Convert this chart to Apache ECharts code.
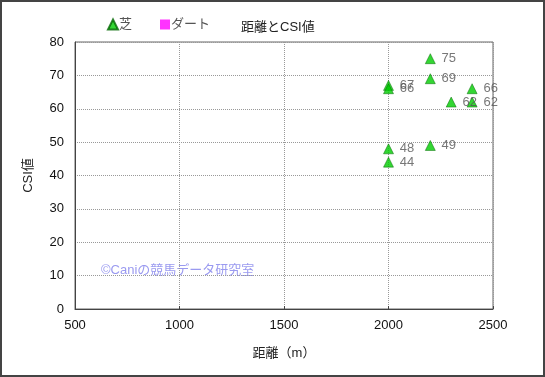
<!DOCTYPE html>
<html>
<head>
<meta charset="utf-8">
<script src="https://cdn.jsdelivr.net/npm/echarts@6/dist/echarts.min.js"></script>
<style>
  html, body { margin: 0; padding: 0; background: #fff; }
  #chart { width: 545px; height: 377px; box-sizing: border-box; border: 2px solid #444; }
</style>
</head>
<body>
<div id="chart"></div>
<script>
// 距離とCSI値のデータ
const turfDistance = [2000, 2000, 2000, 2000, 2200, 2200, 2200, 2300, 2400, 2400];
const turfCsi = [67, 66, 48, 44, 75, 69, 49, 62, 66, 62];
const dirtDistance = [];
const dirtCsi = [];
const xTicks = [500, 1000, 1500, 2000, 2500];
const yTicks = [0, 10, 20, 30, 40, 50, 60, 70, 80];

const font = '"Liberation Sans", "Noto Sans CJK JP", sans-serif';

const chart = echarts.init(document.getElementById('chart'));
chart.setOption({
  animation: false,
  textStyle: { fontFamily: font },
  title: {
    text: '距離とCSI値',
    left: 234, top: 14,
    textStyle: { fontSize: 13, fontWeight: 'normal', color: '#222', fontFamily: font }
  },
  legend: {
    left: 100, top: 11,
    itemGap: 28, itemWidth: 10, itemHeight: 10,
    textStyle: { fontSize: 13, color: '#555', fontFamily: font, padding: [0, 0, 0, -4] },
    data: [
      { name: '芝', icon: 'triangle' },
      { name: 'ダート', icon: 'rect' }
    ]
  },
  graphic: [{
    type: 'text', left: 99, top: 262,
    style: { text: '©Caniの競馬データ研究室', fill: '#9a9af0', font: '13px ' + font }
  }],
  grid: { left: 73, right: 50, top: 40, bottom: 66, show: true, borderColor: '#666', borderWidth: 1 },
  xAxis: {
    type: 'value', min: xTicks[0], max: xTicks[xTicks.length - 1], interval: 500,
    name: '距離（m）', nameLocation: 'middle', nameGap: 38,
    nameTextStyle: { fontSize: 13, color: '#222', fontFamily: font },
    axisLine: { show: true, lineStyle: { color: '#444' } },
    axisTick: { show: true, inside: true, length: 3, lineStyle: { color: '#444' } },
    axisLabel: { fontSize: 13, color: '#111', margin: 10, formatter: v => String(v) },
    splitLine: { show: true, lineStyle: { type: 'dotted', color: '#999' } }
  },
  yAxis: {
    type: 'value', min: yTicks[0], max: yTicks[yTicks.length - 1], interval: 10,
    name: 'CSI値', nameLocation: 'middle', nameGap: 40, nameRotate: 90,
    nameTextStyle: { fontSize: 13, color: '#222', fontFamily: font },
    axisLine: { show: true, lineStyle: { color: '#444' } },
    axisTick: { show: false },
    axisLabel: { fontSize: 13, color: '#111', margin: 11 },
    splitLine: { show: true, lineStyle: { type: 'dotted', color: '#999' } }
  },
  series: [
    {
      name: '芝', type: 'scatter', symbol: 'triangle', symbolSize: 10,
      itemStyle: { color: '#00cc00', borderColor: '#006600', borderWidth: 0.6 },
      label: {
        show: true, position: 'right', distance: 6,
        fontSize: 13, color: '#555', fontFamily: font,
        formatter: p => p.value[1]
      },
      data: turfDistance.map((d, i) => [d, turfCsi[i]])
    },
    {
      name: 'ダート', type: 'scatter', symbol: 'rect', symbolSize: 9,
      itemStyle: { color: '#ff00ff' },
      data: dirtDistance.map((d, i) => [d, dirtCsi[i]])
    }
  ]
});
</script>
</body>
</html>
